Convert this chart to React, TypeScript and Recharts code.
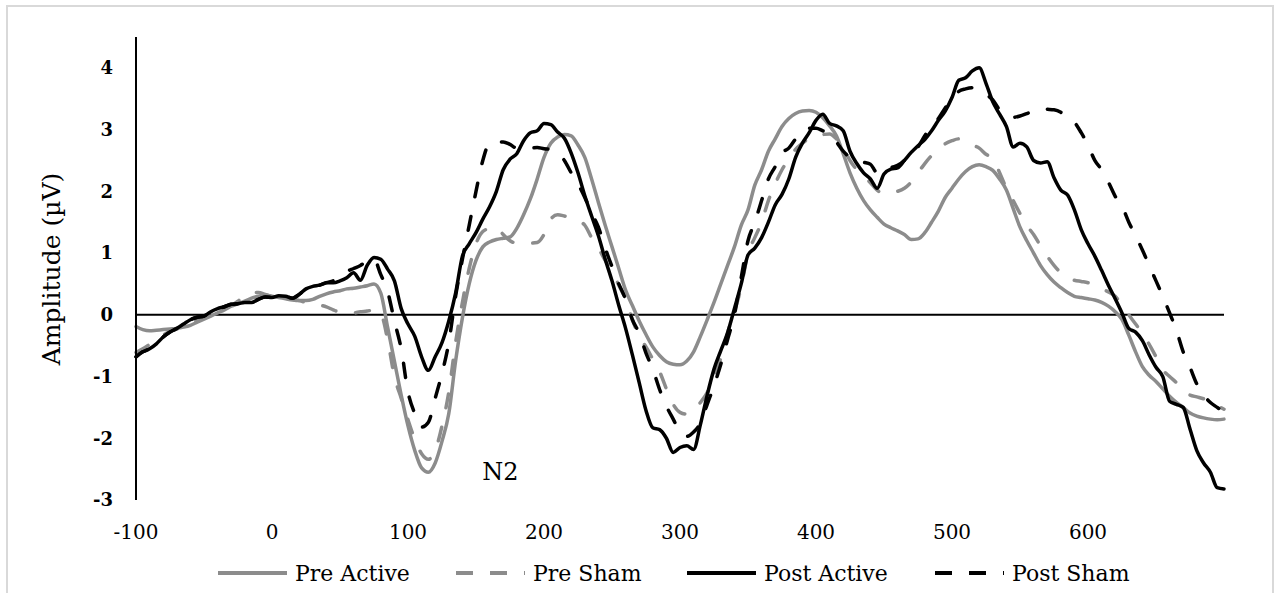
import { LineChart, Line, XAxis, YAxis, ReferenceLine, ReferenceDot, Legend } from "recharts"

const FONT = "'DejaVu Serif', serif"
const GRAY = "#8c8c8c"

// time axis (ms), one sample every 5 ms
const times = [
  -100, -95, -90, -85, -80, -75, -70, -65, -60, -55,
  -50, -45, -40, -35, -30, -25, -20, -15, -10, -5,
  0, 5, 10, 15, 20, 25, 30, 35, 40, 45,
  50, 55, 60, 65, 70, 75, 80, 85, 90, 95,
  100, 105, 110, 115, 120, 125, 130, 135, 140, 145,
  150, 155, 160, 165, 170, 175, 180, 185, 190, 195,
  200, 205, 210, 215, 220, 225, 230, 235, 240, 245,
  250, 255, 260, 265, 270, 275, 280, 285, 290, 295,
  300, 305, 310, 315, 320, 325, 330, 335, 340, 345,
  350, 355, 360, 365, 370, 375, 380, 385, 390, 395,
  400, 405, 410, 415, 420, 425, 430, 435, 440, 445,
  450, 455, 460, 465, 470, 475, 480, 485, 490, 495,
  500, 505, 510, 515, 520, 525, 530, 535, 540, 545,
  550, 555, 560, 565, 570, 575, 580, 585, 590, 595,
  600, 605, 610, 615, 620, 625, 630, 635, 640, 645,
  650, 655, 660, 665, 670, 675, 680, 685, 690, 695,
  700,
]

const preActive = [
  -0.19, -0.24, -0.26, -0.25, -0.24, -0.23, -0.22, -0.2, -0.17, -0.12,
  -0.07, -0.02, 0.03, 0.08, 0.14, 0.18, 0.22, 0.27, 0.3, 0.32,
  0.3, 0.28, 0.26, 0.24, 0.23, 0.23, 0.25, 0.3, 0.34, 0.37,
  0.39, 0.42, 0.43, 0.45, 0.47, 0.5, 0.35, -0.2, -0.75, -1.3,
  -1.8, -2.2, -2.48, -2.55, -2.4, -2.05, -1.6, -0.75, -0.05, 0.5,
  0.88, 1.1, 1.18, 1.22, 1.24, 1.26, 1.4, 1.62, 1.88, 2.2,
  2.55, 2.78, 2.88, 2.92, 2.9, 2.75, 2.55, 2.2, 1.82, 1.45,
  1.1, 0.75, 0.4, 0.15, -0.1, -0.32, -0.52, -0.66, -0.76, -0.8,
  -0.81, -0.75, -0.6, -0.35, -0.08, 0.2, 0.5, 0.8, 1.1, 1.45,
  1.7, 2.1, 2.35, 2.65, 2.85, 3.05, 3.18, 3.26, 3.3, 3.31,
  3.28, 3.19, 3.06, 2.9, 2.61, 2.3, 2.05, 1.85, 1.7, 1.58,
  1.47, 1.41, 1.36, 1.3, 1.22, 1.23, 1.33, 1.5, 1.68, 1.9,
  2.05, 2.2, 2.32, 2.4, 2.43, 2.4, 2.34, 2.2, 2.02, 1.72,
  1.42, 1.2, 1.0, 0.8, 0.65, 0.53, 0.44, 0.36, 0.3, 0.28,
  0.26, 0.24, 0.2, 0.14, 0.05, -0.08, -0.33, -0.6, -0.84, -0.98,
  -1.08, -1.2, -1.32, -1.42, -1.5, -1.59, -1.64, -1.67, -1.69, -1.7,
  -1.69,
]

const preSham = [
  -0.61, -0.55, -0.48, -0.42, -0.33, -0.27, -0.23, -0.19, -0.14, -0.08,
  -0.03, 0.02, 0.07, 0.1, 0.15, 0.22, 0.32, 0.36, 0.36, 0.33,
  0.3, 0.3, 0.28, 0.25, 0.23, 0.2, 0.18, 0.16, 0.13, 0.08,
  0.04, 0.03, 0.03, 0.05, 0.06, 0.08, 0.02, -0.4, -1.0, -1.35,
  -1.7, -2.02, -2.25, -2.34, -2.2, -1.8, -1.25, -0.45, 0.2, 0.75,
  1.15, 1.35, 1.4, 1.42, 1.3, 1.2, 1.16, 1.16, 1.16, 1.17,
  1.3, 1.55, 1.62, 1.6, 1.57, 1.53, 1.45, 1.25, 1.08, 0.88,
  0.7, 0.48, 0.25, -0.08, -0.35, -0.52, -0.72, -0.92, -1.2, -1.45,
  -1.58, -1.61, -1.56, -1.42, -1.26, -0.98, -0.7, -0.29, 0.05, 0.45,
  1.0, 1.25, 1.5, 1.85, 2.12, 2.35, 2.52, 2.68, 2.78, 2.86,
  2.9, 2.92, 2.93, 2.85, 2.7, 2.5, 2.35, 2.25, 2.14, 2.02,
  1.96, 1.98, 2.0, 2.05, 2.15, 2.3, 2.45, 2.58, 2.69, 2.77,
  2.82, 2.85, 2.82, 2.75, 2.7, 2.6, 2.55, 2.3, 2.05, 1.85,
  1.64, 1.45, 1.3, 1.12, 0.95, 0.8, 0.68, 0.6, 0.56, 0.54,
  0.52, 0.48, 0.42, 0.37, 0.3, 0.15, 0.0, -0.15, -0.3, -0.48,
  -0.68, -0.89, -1.0, -1.1, -1.25, -1.3, -1.33, -1.36, -1.4, -1.47,
  -1.53,
]

const postActive = [
  -0.68, -0.6, -0.55, -0.47, -0.36, -0.28, -0.22, -0.15, -0.08, -0.04,
  -0.02, 0.05, 0.1, 0.13, 0.17, 0.18, 0.2, 0.2, 0.25, 0.29,
  0.28, 0.31, 0.3, 0.27, 0.33, 0.42, 0.46, 0.48, 0.52, 0.52,
  0.55, 0.6, 0.68, 0.56, 0.8, 0.93, 0.9, 0.74, 0.55, 0.1,
  -0.15, -0.35, -0.68, -0.9, -0.68, -0.45, -0.1, 0.35, 0.95, 1.15,
  1.33, 1.55, 1.75, 2.0, 2.35, 2.52, 2.61, 2.82, 2.95, 2.98,
  3.1, 3.08, 2.96, 2.86, 2.62, 2.3, 1.93, 1.6, 1.28, 0.9,
  0.55, 0.15, -0.22, -0.65, -1.1, -1.55, -1.83, -1.86, -2.0, -2.23,
  -2.15, -2.12, -2.18, -1.78, -1.3, -0.88, -0.58, -0.29, 0.1, 0.5,
  0.97, 1.08, 1.25, 1.5, 1.78, 1.95, 2.2, 2.55, 2.78, 2.95,
  3.15, 3.25, 3.1, 3.06, 2.98, 2.65, 2.45, 2.3, 2.2, 2.05,
  2.28, 2.36, 2.38, 2.5, 2.63, 2.74, 2.84, 2.98, 3.15, 3.3,
  3.52, 3.8, 3.84, 3.95, 4.0, 3.75, 3.45, 3.25, 3.05, 2.72,
  2.78, 2.72, 2.5, 2.46, 2.48, 2.22, 2.02, 1.94, 1.7, 1.38,
  1.15, 0.95, 0.72, 0.48, 0.26, 0.03, -0.22, -0.28, -0.42, -0.65,
  -0.85, -1.0, -1.4, -1.45, -1.5, -1.85, -2.2, -2.4, -2.55, -2.8,
  -2.82,
]

const postSham = [
  -0.68, -0.6, -0.55, -0.47, -0.36, -0.28, -0.22, -0.15, -0.08, -0.04,
  -0.02, 0.05, 0.1, 0.13, 0.17, 0.18, 0.2, 0.2, 0.25, 0.29,
  0.28, 0.31, 0.3, 0.27, 0.33, 0.42, 0.46, 0.48, 0.52, 0.55,
  0.6, 0.7, 0.75, 0.8, 0.87, 0.9, 0.65, 0.38, -0.1, -0.55,
  -1.25, -1.6, -1.82, -1.74, -1.35, -0.95, -0.45, 0.3, 0.9, 1.45,
  2.0, 2.5, 2.78, 2.8, 2.8, 2.76, 2.7, 2.7, 2.7, 2.71,
  2.69, 2.68, 2.62, 2.5, 2.3, 2.12, 1.9, 1.65, 1.42, 1.08,
  0.78, 0.5, 0.25, -0.08, -0.3, -0.62, -0.88, -1.21, -1.48, -1.69,
  -1.9, -1.97, -1.9, -1.75, -1.45, -1.15, -0.8, -0.4, 0.0, 0.6,
  1.2, 1.5, 1.85, 2.2, 2.4, 2.62, 2.7, 2.85, 2.98, 3.02,
  3.02, 2.98, 2.93, 2.8, 2.65, 2.55, 2.5, 2.47, 2.44, 2.3,
  2.3, 2.38, 2.42, 2.5, 2.62, 2.72, 2.9, 3.05, 3.18, 3.35,
  3.5, 3.62, 3.66, 3.68, 3.64, 3.57, 3.48, 3.32, 3.25, 3.2,
  3.22, 3.26, 3.3, 3.34, 3.33, 3.32, 3.28, 3.2, 3.12, 2.95,
  2.75, 2.5, 2.35, 2.15, 1.92, 1.76, 1.5, 1.28, 1.05, 0.8,
  0.55, 0.3, 0.03, -0.25, -0.6, -0.85, -1.12, -1.3, -1.42, -1.5,
  -1.58,
]

const xTicks = [-100, 0, 100, 200, 300, 400, 500, 600]
const yTicks = [-3, -2, -1, 0, 1, 2, 3, 4]

const series = [
  { key: "preActive", name: "Pre Active", color: GRAY, dashed: false },
  { key: "preSham", name: "Pre Sham", color: GRAY, dashed: true },
  { key: "postActive", name: "Post Active", color: "#000", dashed: false },
  { key: "postSham", name: "Post Sham", color: "#000", dashed: true },
]

const data = times.map((t, i) => ({
  t,
  preActive: preActive[i],
  preSham: preSham[i],
  postActive: postActive[i],
  postSham: postSham[i],
}))

const legendLeft = [218, 456, 687, 935]

function LegendRow() {
  return (
    <div style={{ position: "relative", height: 30, fontFamily: FONT, fontSize: 22, color: "#000" }}>
      {series.map((s, i) => (
        <div
          key={s.key}
          style={{ position: "absolute", left: legendLeft[i], top: 0, height: 30, display: "flex", alignItems: "center", whiteSpace: "nowrap" }}
        >
          <svg width={69} height={8}>
            <line x1={0} y1={4} x2={69} y2={4} stroke={s.color} strokeWidth={4} strokeDasharray={s.dashed ? "17 17" : undefined} />
          </svg>
          <span style={{ marginLeft: 8 }}>{s.name}</span>
        </div>
      ))}
    </div>
  )
}

const axisTitle = () => (
  <text x={51} y={269} transform="rotate(-90 51 269)" textAnchor="middle" dominantBaseline="central"
    fontFamily={FONT} fontSize={25} fill="#000">
    Amplitude (µV)
  </text>
)

export default function App() {
  return (
    <div style={{ position: "absolute", left: 0, top: 0, width: 1274, height: 593, background: "#fff", overflow: "hidden" }}>
      <div style={{ position: "absolute", left: 6, top: 5, width: 1264, height: 600, border: "2px solid #d9d9d9" }} />
      <LineChart width={1274} height={593} data={data} margin={{ top: 37, right: 50, bottom: 53, left: 76 }}>
        <XAxis
          dataKey="t"
          type="number"
          domain={[-100, 700]}
          ticks={xTicks}
          interval={0}
          axisLine={false}
          tickLine={false}
          tickSize={0}
          tickMargin={25}
          height={40}
          tick={{ fontFamily: FONT, fontSize: 20, fill: "#000" }}
        />
        <YAxis
          type="number"
          domain={[-3, 4.5]}
          ticks={yTicks}
          interval={0}
          axisLine={{ stroke: "#000", strokeWidth: 2 }}
          tickLine={false}
          tickSize={0}
          tickMargin={23}
          width={60}
          tick={{ fontFamily: FONT, fontSize: 18, fontWeight: "bold", fill: "#000" }}
          label={{ content: axisTitle }}
        />
        <ReferenceLine y={0} stroke="#000" strokeWidth={2} />
        {series.map((s) => (
          <Line
            key={s.key}
            dataKey={s.key}
            name={s.name}
            type="monotone"
            stroke={s.color}
            strokeWidth={3.5}
            strokeDasharray={s.dashed ? "14 20" : undefined}
            strokeLinecap="round"
            strokeLinejoin="round"
            dot={false}
            activeDot={false}
            isAnimationActive={false}
          />
        ))}
        <ReferenceDot
          x={168}
          y={-2.53}
          r={0}
          stroke="none"
          fill="none"
          label={{ value: "N2", position: "center", fontFamily: FONT, fontSize: 24, fill: "#000" }}
        />
        <Legend
          content={<LegendRow />}
          layout="horizontal"
          verticalAlign="middle"
          align="center"
          wrapperStyle={{ top: 558, left: 0, width: 1274, height: 30 }}
        />
      </LineChart>
    </div>
  )
}
